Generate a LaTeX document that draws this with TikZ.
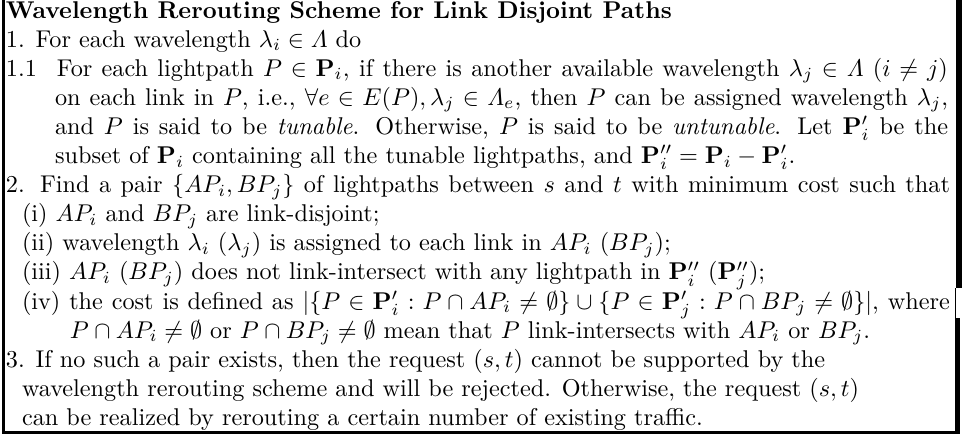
\documentclass[tikz,border=0pt]{standalone}
\usepackage{amsmath}
\begin{document}
\begin{tikzpicture}[x=0.4124pt,y=-0.4124pt,
  line/.style={inner sep=0pt,outer sep=0pt,anchor=base west,font=\fontsize{10}{12}\selectfont},
  frame/.style={fill=black}]
\useasboundingbox (0,0) rectangle (962,440);
% frame of the algorithm box
\fill[frame] (2,0) rectangle (5,434);
\fill[frame] (2,431) rectangle (960,434);
\fill[frame] (956,0) rectangle (962,288);
\draw[line width=0.6pt] (955.5,288) -- (955.5,318);
\fill[frame] (955,318) rectangle (960,434);
% lines of the scheme
\node[line] (l1) at (6,18) {\textbf{Wavelength Rerouting Scheme for Link Disjoint Paths}};
\node[line] (l2) at (6,47.1) {1. For each wavelength $\lambda_i\in\varLambda$ do};
\node[line] (l3a) at (6,76.2) {1.1};
\node[line] (l3) at (57,76.2) {\makebox[367.4pt][s]{For each lightpath $P\in\mathbf{P}_i$, if there is another available wavelength $\lambda_j\in\varLambda$ $(i\neq j)$}};
\node[line] (l4) at (55,105.3) {\makebox[368.3pt][s]{on each link in $P$, i.e., $\forall e\in E(P),\lambda_j\in\varLambda_e$, then $P$ can be assigned wavelength $\lambda_j$,}};
\node[line] (l5) at (55,134.4) {\makebox[368.3pt][s]{and $P$ is said to be \emph{tunable}. Otherwise, $P$ is said to be \emph{untunable}. Let $\mathbf{P}'_i$ be the}};
\node[line] (l6) at (55,163.5) {subset of $\mathbf{P}_i$ containing all the tunable lightpaths, and $\mathbf{P}''_i=\mathbf{P}_i-\mathbf{P}'_i$.};
\node[line] (l7) at (6,192.6) {\makebox[389.3pt][s]{2. Find a pair $\{AP_i,BP_j\}$ of lightpaths between $s$ and $t$ with minimum cost such that}};
\node[line] (l8) at (22,221.7) {(i) $AP_i$ and $BP_j$ are link-disjoint;};
\node[line] (l9) at (22,250.8) {(ii) wavelength $\lambda_i$ $(\lambda_j)$ is assigned to each link in $AP_i$ $(BP_j)$;};
\node[line] (l10) at (22,279.9) {(iii) $AP_i$ $(BP_j)$ does not link-intersect with any lightpath in $\mathbf{P}''_i$ $(\mathbf{P}''_j)$;};
\node[line] (l11) at (22,309) {\makebox[382.7pt][s]{(iv) the cost is defined as $|\{P\in\mathbf{P}'_i:P\cap AP_i\neq\emptyset\}\cup\{P\in\mathbf{P}'_j:P\cap BP_j\neq\emptyset\}|$, where}};
\node[line] (l12) at (70,338.1) {$P\cap AP_i\neq\emptyset$ or $P\cap BP_j\neq\emptyset$ mean that $P$ link-intersects with $AP_i$ or $BP_j$.};
\node[line] (l13) at (6,367.2) {3. If no such a pair exists, then the request $(s,t)$ cannot be supported by the};
\node[line] (l14) at (22,396.3) {wavelength rerouting scheme and will be rejected. Otherwise, the request $(s,t)$};
\node[line] (l15) at (22,425.4) {can be realized by rerouting a certain number of existing traffic.};
\end{tikzpicture}
\end{document}
